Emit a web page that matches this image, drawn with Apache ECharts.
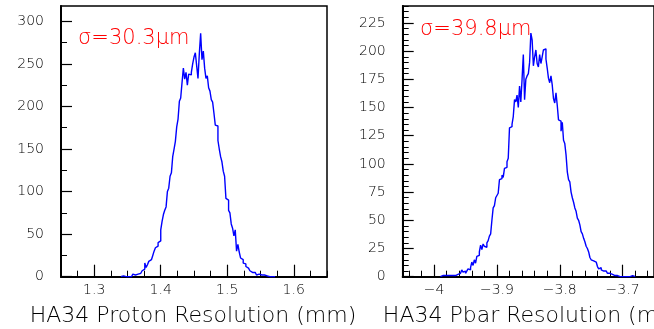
<!DOCTYPE html>
<html>
<head>
<meta charset="utf-8">
<script src="https://cdn.jsdelivr.net/npm/echarts@6/dist/echarts.min.js"></script>
<style>html,body{margin:0;padding:0;background:#fff}#c{width:654px;height:329px}</style>
</head>
<body>
<div id="c"></div>
<script>
// ---- data ----
const binWidth = 0.002;
const protonStart = 1.340;
const protonCounts = [
 0,1,2,0,1,0,1,0,2,3, 2,4,3,5,4,6,7,9,16,11,
 14,18,20,22,25,30,34,36,40,42, 55,65,73,78,82,100,104,118,122,141,
 150,159,176,185,206,210,228,245,232,240, 225,238,237,240,250,258,263,248,233,262,
 286,255,265,245,233,236,222,218,208,205, 192,178,177,160,150,141,135,124,118,92,
 90,78,75,62,57,48,55,30,38,29, 22,20,16,15,12,10,8,7,5,4,
 5,3,2,3,1,2,1,2,0,1, 0,0,1,0,1,0
];
const pbarStart = -3.990;
const pbarCounts = [
 0,1,1,1,1,1,1,1,1,1, 2,1,1,2,1,3,2,6,4,5,
 3,5,7,6,8,13,10,15,12,18, 19,22,28,24,29,27,26,30,32,36,
 38,50,61,63,70,72,74,86,87,90, 88,96,97,102,105,132,133,135,142,157,
 155,161,150,169,155,175,197,157,175,178, 180,190,216,210,187,195,201,189,186,197,
 189,195,201,202,193,185,176,172,178,170, 158,154,163,152,139,138,129,137,121,118,
 108,93,86,84,75,70,66,61,58,52, 50,46,40,38,34,31,27,25,22,17,
 15,14,15,13,14,9,7,8,6,5, 6,5,4,3,3,2,2,1,1,0,
 1,0,0,1,0,0,0,1,0,0, 0,0,1,1,0
];
const protonXTicks = [1.3, 1.4, 1.5, 1.6];
const protonYTicks = [0, 50, 100, 150, 200, 250, 300];
const pbarXTicks = [-4, -3.9, -3.8, -3.7];
const pbarYTicks = [0, 25, 50, 75, 100, 125, 150, 175, 200, 225];
const protonTitle = 'HA34 Proton Resolution (mm)';
const pbarTitle = 'HA34 Pbar Resolution (mm)';
const protonSigma = 'σ=30.3μm';
const pbarSigma = 'σ=39.8μm';

// ---- helpers ----
function steps(start, counts) {
  const pts = counts.map((c, i) => [+(start + i * binWidth).toFixed(4), c]);
  pts.push([+(start + counts.length * binWidth).toFixed(4), 0]);
  return pts;
}
function range(a, b, d) {
  const out = []; const n = Math.round((b - a) / d);
  for (let i = 0; i <= n; i++) out.push(+(a + i * d).toFixed(4));
  return out;
}
const FONT = 'DejaVu Sans';
const FW = 200;
const AX = '#000';
const fmt = v => String(v).replace('-', '\u2212');
function majorX(grid, min, max, ticks) {
  return {
    type: 'value', gridIndex: grid, min: min, max: max, position: 'bottom',
    splitLine: { show: false },
    axisLine: { show: true, onZero: false, lineStyle: { color: AX, width: 2 } },
    axisTick: { show: true, inside: true, length: 12, customValues: ticks, lineStyle: { color: AX, width: 1.2 } },
    axisLabel: { show: true, customValues: ticks, margin: 7, color: AX, fontFamily: FONT, fontWeight: FW, fontSize: 14, formatter: fmt }
  };
}
function minorX(grid, min, max, ticks) {
  return {
    type: 'value', gridIndex: grid, min: min, max: max, position: 'bottom',
    splitLine: { show: false },
    axisLine: { show: false, onZero: false },
    axisTick: { show: true, inside: true, length: 6, customValues: ticks, lineStyle: { color: AX, width: 1 } },
    axisLabel: { show: false }
  };
}
function majorY(grid, min, max, ticks) {
  return {
    type: 'value', gridIndex: grid, min: min, max: max, position: 'left',
    splitLine: { show: false },
    axisLine: { show: true, onZero: false, lineStyle: { color: AX, width: 2 } },
    axisTick: { show: true, inside: true, length: 11, customValues: ticks, lineStyle: { color: AX, width: 1.2 } },
    axisLabel: { show: true, customValues: ticks, margin: 17, color: AX, fontFamily: FONT, fontWeight: FW, fontSize: 14 }
  };
}
function minorY(grid, min, max, ticks) {
  return {
    type: 'value', gridIndex: grid, min: min, max: max, position: 'left',
    splitLine: { show: false },
    axisLine: { show: false, onZero: false },
    axisTick: { show: true, inside: true, length: 6, customValues: ticks, lineStyle: { color: AX, width: 1 } },
    axisLabel: { show: false }
  };
}

const chart = echarts.init(document.getElementById('c'), null, { renderer: 'canvas' });
chart.setOption({
  animation: false,
  backgroundColor: '#fff',
  grid: [
    { left: 61, top: 6, width: 266, height: 270.7, show: true, borderColor: AX, borderWidth: 1.5, backgroundColor: 'transparent' },
    { left: 402.7, top: 6, width: 265.6, height: 270.7, show: true, borderColor: AX, borderWidth: 1.5, backgroundColor: 'transparent' }
  ],
  xAxis: [
    majorX(0, 1.25, 1.65, protonXTicks),
    minorX(0, 1.25, 1.65, range(1.25, 1.65, 0.025)),
    majorX(1, -4.05, -3.65, pbarXTicks),
    minorX(1, -4.05, -3.65, range(-4.04, -3.66, 0.02))
  ],
  yAxis: [
    majorY(0, 0, 318, protonYTicks),
    minorY(0, 0, 318, range(0, 300, 25)),
    majorY(1, 0, 240, pbarYTicks),
    minorY(1, 0, 240, range(0, 240, 5))
  ],
  series: [
    { type: 'line', xAxisIndex: 0, yAxisIndex: 0, step: 'end', showSymbol: false, clip: true,
      data: steps(protonStart, protonCounts), lineStyle: { color: '#0000ff', width: 1.4 } },
    { type: 'line', xAxisIndex: 2, yAxisIndex: 2, step: 'end', showSymbol: false, clip: true,
      data: steps(pbarStart, pbarCounts), lineStyle: { color: '#0000ff', width: 1.4 } }
  ],
  graphic: [
    { type: 'text', left: 78, top: 28, z: 100, style: { text: protonSigma, fill: '#ff0000', font: '200 21px "DejaVu Sans"' } },
    { type: 'text', left: 420, top: 19, z: 100, style: { text: pbarSigma, fill: '#ff0000', font: '200 21px "DejaVu Sans"' } },
    { type: 'text', x: 193, y: 316, z: 100, style: { text: protonTitle, fill: AX, font: '200 22px "DejaVu Sans"', align: 'center', verticalAlign: 'middle' } },
    { type: 'text', x: 535.5, y: 316, z: 100, style: { text: pbarTitle, fill: AX, font: '200 22px "DejaVu Sans"', align: 'center', verticalAlign: 'middle' } }
  ]
});
</script>
</body>
</html>
